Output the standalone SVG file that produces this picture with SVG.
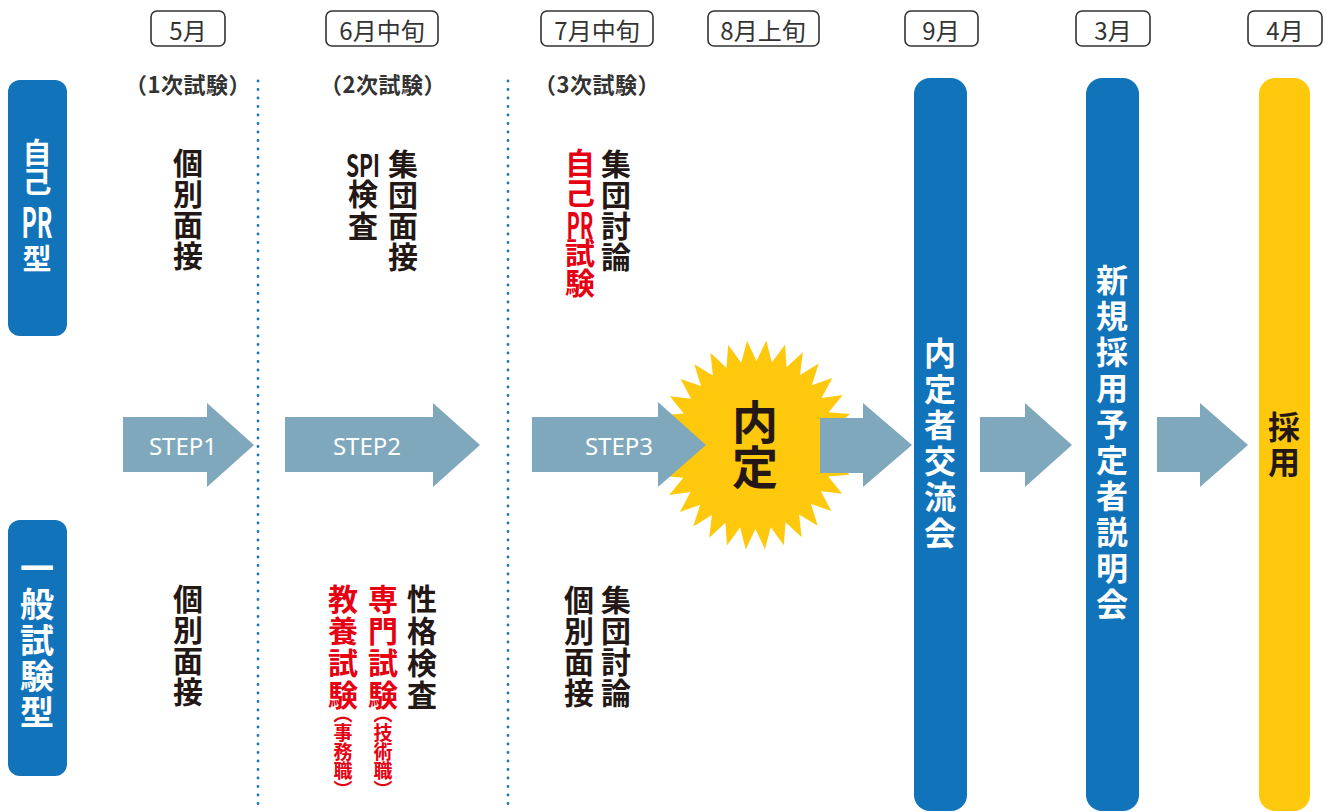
<svg xmlns="http://www.w3.org/2000/svg" width="1327" height="812" viewBox="0 0 1327 812">
<style>
text{font-family:"Noto Sans CJK JP","Noto Sans",sans-serif;text-anchor:middle;dominant-baseline:central}
.v{writing-mode:vertical-rl;text-anchor:start}
.mon{font-size:24px;fill:#333;font-weight:400}
.mbox{fill:#fff;stroke:#333;stroke-width:1.6}
.phase{font-size:22px;fill:#333;font-weight:700;letter-spacing:0.5px}
.col{font-size:30px;fill:#231815;font-weight:700}
.red{fill:#e60012}
.small{font-size:19px;font-weight:700;font-feature-settings:"vhal" 1}
.wh{fill:#fff;font-weight:700}
.step{font-family:"Noto Sans","Open Sans",sans-serif;font-size:24px;fill:#fff}
.arrow{fill:#80a8bd}
.dot{stroke:#1a75bc;stroke-width:2.8;stroke-dasharray:0 8.5;stroke-linecap:round}
.blue{fill:#1174bb}
.ls1{letter-spacing:1px}
.ls2{letter-spacing:2px}
.f29{font-size:29px}
.f32{font-size:32px}
.f34{font-size:34px}
.f45{font-size:46px}
</style>

<g id="months">
<g id="m5"><rect class="mbox" x="151" y="11" width="74" height="35" rx="6"/><text class="mon" x="188" y="29">5月</text></g>
<g id="m6"><rect class="mbox" x="326" y="11" width="112" height="35" rx="6"/><text class="mon" x="382" y="29">6月中旬</text></g>
<g id="m7"><rect class="mbox" x="541" y="11" width="112" height="35" rx="6"/><text class="mon" x="597" y="29">7月中旬</text></g>
<g id="m8"><rect class="mbox" x="708" y="11" width="111" height="35" rx="6"/><text class="mon" x="763" y="29">8月上旬</text></g>
<g id="m9"><rect class="mbox" x="905" y="11" width="73" height="35" rx="6"/><text class="mon" x="941" y="29">9月</text></g>
<g id="m3"><rect class="mbox" x="1076" y="11" width="74" height="35" rx="6"/><text class="mon" x="1113" y="29">3月</text></g>
<g id="m4"><rect class="mbox" x="1248" y="11" width="74" height="35" rx="6"/><text class="mon" x="1285" y="29">4月</text></g>
</g>

<g id="phases">
<text class="phase" x="188" y="83">（1次試験）</text>
<text class="phase" x="383" y="83">（2次試験）</text>
<text class="phase" x="597" y="83">（3次試験）</text>
</g>

<g id="dividers">
<line class="dot" x1="258" y1="81" x2="258" y2="812"/>
<line class="dot" x1="508" y1="81" x2="508" y2="812"/>
</g>

<g id="type-pr">
<rect class="blue" x="8" y="80" width="59" height="256" rx="12"/>
<text class="wh f29 v" x="37" y="138.5">自己</text>
<text class="wh" style="font-size:42px" x="37" y="219" textLength="31" lengthAdjust="spacingAndGlyphs">PR</text>
<text class="wh f29 v" x="37" y="244.5">型</text>
</g>

<g id="type-general">
<rect class="blue" x="8" y="520" width="59" height="256" rx="12"/>
<text class="wh f34 v ls2" x="37" y="551">一般試験型</text>
</g>

<g id="s1-top"><text class="col v ls1" x="188" y="148">個別面接</text></g>

<g id="s2-top">
<text class="col v ls1" x="403" y="149">集団面接</text>
<text class="col" style="font-size:31px" x="363" y="163" textLength="34" lengthAdjust="spacingAndGlyphs">SPI</text>
<text class="col v ls2" x="363" y="179">検査</text>
</g>

<g id="s3-top">
<text class="col v ls1" x="616" y="149">集団討論</text>
<text class="col red v" x="580" y="148">自己</text>
<text class="col red" style="font-size:36px" x="580" y="223" textLength="27" lengthAdjust="spacingAndGlyphs">PR</text>
<text class="col red v" x="580" y="238">試験</text>
</g>

<g id="s1-bottom"><text class="col v ls1" x="188" y="584">個別面接</text></g>

<g id="s2-bottom">
<text class="col v ls2" x="422" y="584">性格検査</text>
<text class="col red v ls2" x="383" y="584">専門試験</text>
<text class="col red v ls2" x="343" y="584">教養試験</text>
<text class="small red v" x="383" y="714">（技術職）</text>
<text class="small red v" x="343" y="714">（事務職）</text>
</g>

<g id="s3-bottom">
<text class="col v ls1" x="616" y="585">集団討論</text>
<text class="col v ls1" x="579" y="585">個別面接</text>
</g>

<g id="naitei">
<polygon fill="#fec90c" transform="translate(756,445) rotate(5.625) scale(0.98,1.05)" points="100,0 79.61,7.84 98.08,19.51 76.56,23.22 92.39,38.27 70.55,37.71 83.15,55.56 61.84,50.75 70.71,70.71 50.75,61.84 55.56,83.15 37.71,70.55 38.27,92.39 23.22,76.56 19.51,98.08 7.84,79.61 0,100 -7.84,79.61 -19.51,98.08 -23.22,76.56 -38.27,92.39 -37.71,70.55 -55.56,83.15 -50.75,61.84 -70.71,70.71 -61.84,50.75 -83.15,55.56 -70.55,37.71 -92.39,38.27 -76.56,23.22 -98.08,19.51 -79.61,7.84 -100,0 -79.61,-7.84 -98.08,-19.51 -76.56,-23.22 -92.39,-38.27 -70.55,-37.71 -83.15,-55.56 -61.84,-50.75 -70.71,-70.71 -50.75,-61.84 -55.56,-83.15 -37.71,-70.55 -38.27,-92.39 -23.22,-76.56 -19.51,-98.08 -7.84,-79.61 0,-100 7.84,-79.61 19.51,-98.08 23.22,-76.56 38.27,-92.39 37.71,-70.55 55.56,-83.15 50.75,-61.84 70.71,-70.71 61.84,-50.75 83.15,-55.56 70.55,-37.71 92.39,-38.27 76.56,-23.22 98.08,-19.51 79.61,-7.84"/>
</g>

<g id="connectors">
<polygon class="arrow" points="123,417 207,417 207,403 254,445 207,487 207,472 123,472"/>
<polygon class="arrow" points="285,417 433,417 433,403 480,445 433,487 433,472 285,472"/>
<polygon class="arrow" points="532,417 658,417 658,402 706,445 658,487 658,472 532,472"/>
<polygon class="arrow" points="820,418 863,418 863,403 912,445 863,487 863,473 820,473"/>
<polygon class="arrow" points="980,417 1025,417 1025,403 1072,445 1025,487 1025,472 980,472"/>
<polygon class="arrow" points="1157,417 1200,417 1200,403 1248,445 1200,487 1200,472 1157,472"/>
<text class="step" x="183" y="445">STEP1</text>
<text class="step" x="367" y="445">STEP2</text>
<text class="step" x="619" y="445">STEP3</text>
</g>

<g id="naitei-label"><text class="col f45 v" style="letter-spacing:-1px" x="755" y="399">内定</text></g>

<g id="bar-sept">
<rect class="blue" x="914" y="78" width="53" height="733" rx="16"/>
<text class="wh f32 v" style="letter-spacing:4px" x="940" y="337">内定者交流会</text>
</g>

<g id="bar-march">
<rect class="blue" x="1086" y="78" width="53" height="733" rx="16"/>
<text class="wh f32 v" style="letter-spacing:4px" x="1112" y="264">新規採用予定者説明会</text>
</g>

<g id="bar-april">
<rect fill="#fec90c" x="1259" y="78" width="51" height="733" rx="16"/>
<text class="col f32 v" style="letter-spacing:3px" x="1284" y="411">採用</text>
</g>
</svg>
